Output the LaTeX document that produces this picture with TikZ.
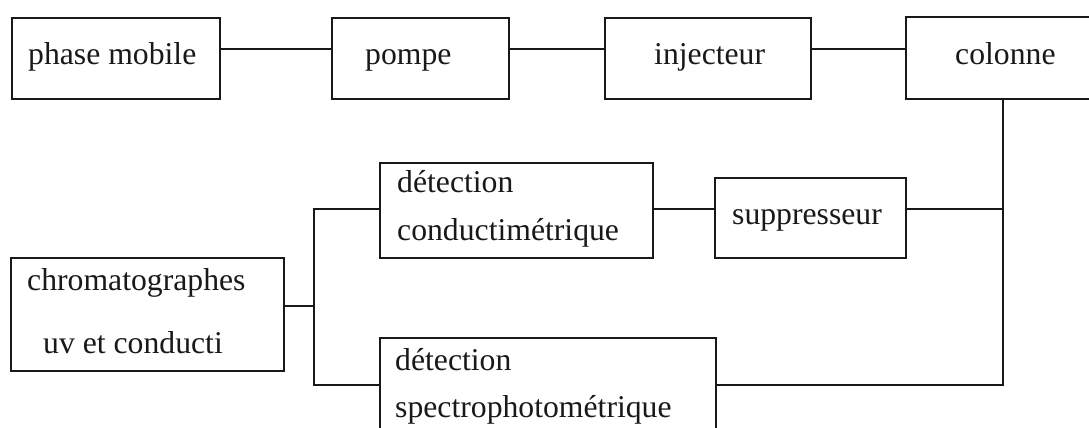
\documentclass[tikz,border=0pt]{standalone}
\usepackage{fontspec}
\setmainfont{Liberation Serif}
\begin{document}
\begin{tikzpicture}[x=1pt,y=-1pt,
  box/.style={draw=black!90, line width=2.3pt, rectangle, inner sep=0pt, anchor=north west},
  lbl/.style={anchor=base west, inner sep=0pt, font=\fontsize{31.7}{38}\selectfont, text=black!90},
  wire/.style={draw=black!90, line width=2.3pt}]
\clip (0,0) rectangle (1089,428);
\fill[white] (0,0) rectangle (1089,428);
% boxes
\node[box, minimum width=208pt, minimum height=81pt] (pm) at (11,17) {};
\node[box, minimum width=177pt, minimum height=81pt] (pompe) at (331,17) {};
\node[box, minimum width=206pt, minimum height=81pt] (inj) at (604,17) {};
\node[box, minimum width=240pt, minimum height=82pt] (col) at (905,16) {};
\node[box, minimum width=273pt, minimum height=95pt] (det) at (379,162) {};
\node[box, minimum width=191pt, minimum height=80pt] (sup) at (714,177) {};
\node[box, minimum width=273pt, minimum height=113pt] (chrom) at (10,257) {};
\node[box, minimum width=336pt, minimum height=110pt] (spec) at (379,337) {};
% texts
\node[lbl] (t1) at (28,65) {phase mobile};
\node[lbl] (t2) at (365,65) {pompe};
\node[lbl] (t3) at (654,64) {injecteur};
\node[lbl] (t4) at (955,65) {colonne};
\node[lbl] (t5) at (397,192) {détection};
\node[lbl] (t6) at (397,240) {conductimétrique};
\node[lbl] (t7) at (732,224) {suppresseur};
\node[lbl] (t8) at (27,290) {chromatographes};
\node[lbl] (t9) at (43,353) {uv et conducti};
\node[lbl] (t10) at (395,370) {détection};
\node[lbl] (t11) at (395,417) {spectrophotométrique};
% helper coordinates
\coordinate (ytop) at (0,49);
\coordinate (ysup) at (0,209);
\coordinate (jn) at (314,306);
\coordinate (ylow) at (0,385);
\coordinate (xcol) at (1003,0);
% connectors
\draw[wire] (pm.east |- ytop) -- (pompe.west |- ytop);
\draw[wire] (pompe.east |- ytop) -- (inj.west |- ytop);
\draw[wire] (inj.east |- ytop) -- (col.west |- ytop);
\draw[wire] (det.east |- ysup) -- (sup.west |- ysup);
\draw[wire] (sup.east |- ysup) -- (xcol |- ysup);
\draw[wire] (xcol |- col.south) -- (xcol |- ylow) -- (spec.east |- ylow);
\draw[wire] (chrom.east |- jn) -- (jn);
\draw[wire] (det.west |- ysup) -- (jn |- ysup) -- (jn |- ylow) -- (spec.west |- ylow);
\end{tikzpicture}
\end{document}
